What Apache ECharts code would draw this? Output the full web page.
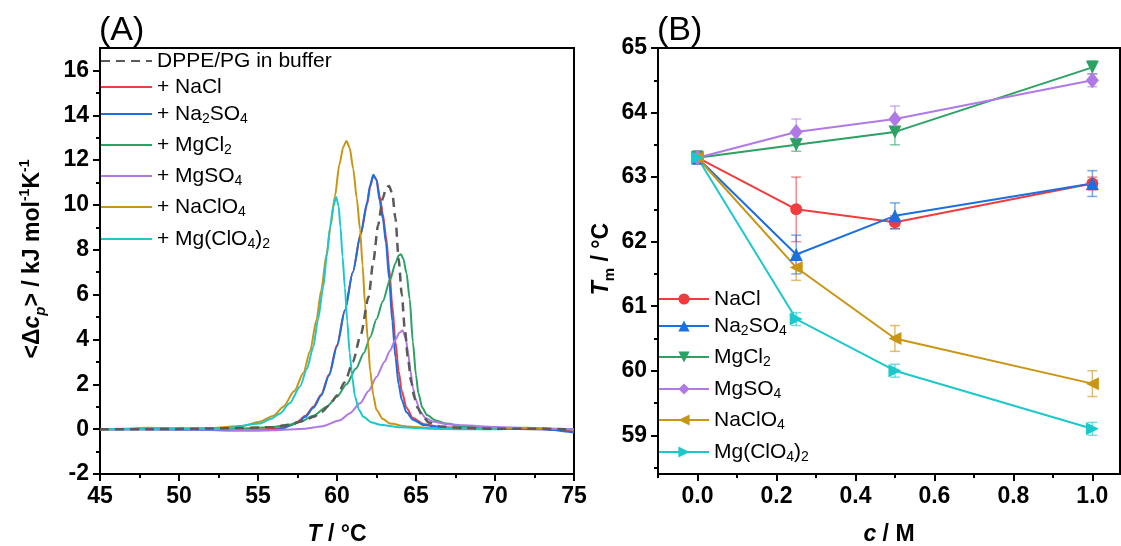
<!DOCTYPE html>
<html>
<head>
<meta charset="utf-8">
<script src="https://cdn.jsdelivr.net/npm/echarts@6/dist/echarts.min.js"></script>
<style>
html,body{margin:0;padding:0;background:#fff;}
#chart{width:1121px;height:546px;}
</style>
</head>
<body>
<div id="chart"></div>
<script>
// ---------- Panel A : DSC curves ----------
const tBuf = [45, 48, 51, 54, 56, 57, 58, 58.5, 59, 59.5, 60, 60.5, 61, 61.5, 62, 62.3, 62.6, 62.9, 63.1, 63.3, 63.5, 63.7, 63.9, 64.1, 64.3, 64.5, 64.7, 64.9, 65.1, 65.4, 65.8, 66.5, 68, 70, 72, 74.5];
const cpBuf = [0, 0, 0.02, 0.05, 0.1, 0.2, 0.4, 0.55, 0.75, 1.05, 1.5, 2.1, 3.0, 4.2, 5.9, 7.5, 9.1, 10.3, 10.75, 10.85, 10.5, 9.4, 7.6, 6.0, 4.4, 3.1, 2.1, 1.4, 0.95, 0.6, 0.3, 0.12, 0.05, 0.02, 0.02, 0];

const tNaCl = [45, 48, 51, 54, 55.5, 56.5, 57, 57.5, 58, 58.5, 59, 59.5, 60, 60.5, 61, 61.5, 61.9, 62.1, 62.3, 62.5, 62.7, 62.9, 63.1, 63.3, 63.5, 63.7, 63.9, 64.1, 64.4, 64.8, 65.5, 66.5, 68, 70, 73, 75];
const cpNaCl = [0, 0.01, 0, -0.02, 0, 0.05, 0.17, 0.33, 0.6, 1.0, 1.55, 2.45, 3.75, 5.3, 7.0, 8.7, 10.0, 10.8, 11.3, 11.15, 10.4, 9.6, 8.6, 7.2, 5.5, 3.9, 2.6, 1.7, 0.95, 0.5, 0.22, 0.1, 0.04, 0.02, 0.0, -0.1];

const tNa2SO4 = [45, 48, 51, 54, 55.5, 56.5, 57, 57.5, 58, 58.5, 59, 59.5, 60, 60.5, 61, 61.5, 61.9, 62.1, 62.3, 62.5, 62.7, 62.9, 63.1, 63.3, 63.5, 63.7, 63.9, 64.1, 64.4, 64.8, 65.5, 66.5, 68, 70, 73, 75];
const cpNa2SO4 = [0, 0, -0.03, -0.06, -0.05, 0.0, 0.15, 0.3, 0.55, 0.95, 1.5, 2.4, 3.7, 5.3, 7.0, 8.7, 10.1, 10.9, 11.35, 11.1, 10.2, 9.4, 8.3, 6.7, 4.8, 3.2, 2.0, 1.3, 0.75, 0.42, 0.18, 0.08, 0.03, 0.02, 0.0, -0.15];

const tMgCl2 = [45, 48, 51, 54, 56, 57, 57.7, 58.5, 59.35, 60, 60.6, 61.2, 61.7, 62.1, 62.5, 62.9, 63.35, 63.7, 63.9, 64.05, 64.2, 64.4, 64.6, 64.8, 65.0, 65.15, 65.4, 65.7, 66.2, 66.9, 68, 70, 73, 75];
const cpMgCl2 = [0, 0, 0, 0.03, 0.1, 0.2, 0.33, 0.6, 1.0, 1.45, 2.0, 2.7, 3.4, 4.1, 4.9, 5.7, 6.65, 7.4, 7.75, 7.8, 7.6, 6.95, 5.8, 3.9, 2.4, 1.6, 0.95, 0.63, 0.4, 0.25, 0.12, 0.05, 0.02, 0];

const tMgSO4 = [45, 48, 51, 54, 56, 58, 59, 60.2, 60.8, 61.46, 62, 62.5, 63, 63.35, 63.7, 63.95, 64.15, 64.35, 64.5, 64.65, 64.8, 65.0, 65.25, 65.6, 66.1, 67, 68, 70, 73, 75];
const cpMgSO4 = [0, 0, -0.02, -0.04, -0.05, 0.02, 0.12, 0.4, 0.7, 1.15, 1.7, 2.33, 3.0, 3.5, 4.0, 4.3, 4.4, 4.05, 3.4, 2.6, 1.85, 1.3, 0.8, 0.5, 0.33, 0.22, 0.17, 0.1, 0.03, 0];

const tNaClO4 = [45, 46.5, 48, 50, 52, 54, 55.1, 56, 56.6, 57.3, 57.87, 58.3, 58.7, 59.0, 59.35, 59.6, 59.87, 60.15, 60.4, 60.6, 60.8, 61.03, 61.25, 61.46, 61.62, 61.77, 61.95, 62.1, 62.3, 62.5, 62.9, 63.35, 64.4, 66, 70, 72, 73.3];
const cpNaClO4 = [0, 0.02, 0.06, 0.04, 0.05, 0.14, 0.33, 0.6, 1.0, 1.7, 2.5, 3.5, 4.87, 6.2, 7.85, 9.1, 10.4, 11.8, 12.6, 12.85, 12.55, 11.6, 10.3, 8.9, 7.3, 5.6, 4.0, 2.6, 1.5, 0.85, 0.45, 0.25, 0.12, 0.05, 0.03, 0.06, 0.03];

const tMgClO42 = [45, 48, 51, 53, 55.1, 55.8, 56.4, 57.0, 57.66, 58.1, 58.5, 58.8, 59.13, 59.35, 59.56, 59.75, 59.95, 60.1, 60.22, 60.35, 60.5, 60.65, 60.8, 60.97, 61.14, 61.4, 61.67, 62.2, 62.7, 64, 66, 68, 70.5];
const cpMgClO42 = [0, 0.01, 0.02, 0.05, 0.25, 0.45, 0.7, 1.15, 1.9, 2.7, 3.67, 4.9, 6.35, 7.7, 9.0, 9.9, 10.35, 9.95, 9.0, 7.7, 6.3, 4.8, 3.4, 2.3, 1.44, 0.85, 0.55, 0.3, 0.2, 0.08, 0.02, 0, 0];

const yTicksA = [-2, 0, 2, 4, 6, 8, 10, 12, 14, 16];
const yMinorA = [-1, 1, 3, 5, 7, 9, 11, 13, 15];

// ---------- Panel B : Tm vs concentration ----------
const conc = [0, 0.25, 0.5, 1.0];
const tmNaCl = [63.3, 62.5, 62.3, 62.9];      const errNaCl = [0.1, 0.5, 0.1, 0.1];
const tmNa2SO4 = [63.3, 61.8, 62.4, 62.9];    const errNa2SO4 = [0.1, 0.3, 0.2, 0.2];
const tmMgCl2 = [63.3, 63.5, 63.7, 64.7];     const errMgCl2 = [0.1, 0.1, 0.2, 0.1];
const tmMgSO4 = [63.3, 63.7, 63.9, 64.5];     const errMgSO4 = [0.1, 0.2, 0.2, 0.1];
const tmNaClO4 = [63.3, 61.6, 60.5, 59.8];    const errNaClO4 = [0.1, 0.2, 0.2, 0.2];
const tmMgClO42 = [63.3, 60.8, 60.0, 59.1];   const errMgClO42 = [0.1, 0.1, 0.1, 0.1];

const xTicksB = [0, 0.2, 0.4, 0.6, 0.8, 1.0];
const xMinorB = [-0.1, 0.1, 0.3, 0.5, 0.7, 0.9];
const yTicksB = [59, 60, 61, 62, 63, 64, 65];
const yMinorB = [58.5, 59.5, 60.5, 61.5, 62.5, 63.5, 64.5];

// ---------- styling ----------
const FONT = "'Liberation Sans', Arial, Helvetica, sans-serif";
const C = {
  buf: '#5a5a5a', NaCl: '#F03C3E', Na2SO4: '#1C6FE0', MgCl2: '#2BA163',
  MgSO4: '#B07AE6', NaClO4: '#C99512', MgClO42: '#1DC8CC'
};

const zip = (a, b) => a.map((v, i) => [v, b[i]]);
const zip3 = (a, b, c) => a.map((v, i) => [v, b[i], c[i]]);

const axisLine = { show: true, onZero: false, lineStyle: { color: '#000', width: 2 } };
const tickLabel = { color: '#000', fontFamily: FONT, fontWeight: 'bold', fontSize: 23 };

function majorAxis(gridIndex, min, max, ticks, fmt, position) {
  return {
    type: 'value', gridIndex, min, max, position, offset: 0,
    axisLine,
    axisTick: { show: true, length: 7, lineStyle: { color: '#000', width: 2 }, customValues: ticks },
    axisLabel: Object.assign({ margin: 11, customValues: ticks, formatter: fmt }, tickLabel),
    splitLine: { show: false }
  };
}
function minorAxis(gridIndex, min, max, ticks, position) {
  return {
    type: 'value', gridIndex, min, max, position, offset: 0,
    axisLine: { show: false, onZero: false },
    axisTick: { show: true, length: 4, lineStyle: { color: '#000', width: 2 }, customValues: ticks },
    axisLabel: { show: false },
    splitLine: { show: false }
  };
}

const leftSeriesDefs = [
  ['DPPE/PG in buffer', tBuf, cpBuf, C.buf, true],
  ['+ NaCl', tNaCl, cpNaCl, C.NaCl],
  ['+ Na2SO4', tNa2SO4, cpNa2SO4, C.Na2SO4],
  ['+ MgCl2', tMgCl2, cpMgCl2, C.MgCl2],
  ['+ MgSO4', tMgSO4, cpMgSO4, C.MgSO4],
  ['+ NaClO4', tNaClO4, cpNaClO4, C.NaClO4],
  ['+ Mg(ClO4)2', tMgClO42, cpMgClO42, C.MgClO42]
];
const rightSeriesDefs = [
  ['NaCl', tmNaCl, errNaCl, C.NaCl, 'circle', 0, 12],
  ['Na2SO4', tmNa2SO4, errNa2SO4, C.Na2SO4, 'triangle', 0, 13],
  ['MgCl2', tmMgCl2, errMgCl2, C.MgCl2, 'triangle', 180, 13],
  ['MgSO4', tmMgSO4, errMgSO4, C.MgSO4, 'diamond', 0, [13, 16]],
  ['NaClO4', tmNaClO4, errNaClO4, C.NaClO4, 'triangle', 90, 13],
  ['Mg(ClO4)2', tmMgClO42, errMgClO42, C.MgClO42, 'triangle', -90, 13]
];

const series = [];
leftSeriesDefs.forEach(([name, t, v, color, dashed]) => {
  series.push({
    name, type: 'line', xAxisIndex: 0, yAxisIndex: 0,
    data: zip(t, v), symbol: 'none', smooth: 0.25, smoothMonotone: 'x',
    lineStyle: { color, width: dashed ? 2.5 : 2, type: dashed ? [9, 6] : 'solid' },
    itemStyle: { color }, z: dashed ? 3 : 2
  });
});
rightSeriesDefs.forEach(([name, tm, err, color, sym, rot, size]) => {
  series.push({
    name: name + ' err', type: 'custom', xAxisIndex: 1, yAxisIndex: 1,
    data: zip3(conc, tm, err), encode: { x: 0, y: 1 }, z: 1,
    renderItem: (params, api) => {
      const x = api.value(0), y = api.value(1), e = api.value(2);
      const p1 = api.coord([x, y + e]), p2 = api.coord([x, y - e]);
      const w = 5;
      const style = { stroke: color, lineWidth: 1.5, opacity: 0.6 };
      return { type: 'group', children: [
        { type: 'line', shape: { x1: p1[0], y1: p1[1], x2: p2[0], y2: p2[1] }, style },
        { type: 'line', shape: { x1: p1[0] - w, y1: p1[1], x2: p1[0] + w, y2: p1[1] }, style },
        { type: 'line', shape: { x1: p2[0] - w, y1: p2[1], x2: p2[0] + w, y2: p2[1] }, style }
      ]};
    }
  });
  series.push({
    name, type: 'line', xAxisIndex: 1, yAxisIndex: 1,
    data: zip(conc, tm), symbol: sym, symbolRotate: rot, symbolSize: size, showSymbol: true,
    lineStyle: { color, width: 2 }, itemStyle: { color }, z: 3
  });
});

const subFmt = name => name.replace(/(\d)/g, '{sub|$1}');
function legendText() {
  return {
    color: '#000', fontFamily: FONT, fontSize: 21, lineHeight: 24,
    rich: {
      sub: { fontFamily: FONT, fontSize: 14, verticalAlign: 'bottom', lineHeight: 12, color: '#000' }
    }
  };
}
const legends = [];
const leftCenters = [61, 87, 114, 145, 176, 207, 239];
leftSeriesDefs.forEach((d, i) => {
  legends.push({
    left: 100, top: leftCenters[i] - 12, orient: 'vertical', padding: 0, itemGap: 0,
    itemWidth: 51, itemHeight: 14, selectedMode: false, data: [d[0]],
    itemStyle: { opacity: 0 },
    formatter: subFmt, textStyle: legendText()
  });
});
const rightCenters = [299, 326, 357, 389, 420, 452];
rightSeriesDefs.forEach((d, i) => {
  legends.push({
    left: 658, top: rightCenters[i] - 12, orient: 'vertical', padding: 0, itemGap: 0,
    itemWidth: 50, itemHeight: 14, selectedMode: false, data: [d[0]],
    formatter: subFmt, textStyle: legendText()
  });
});

const nameRich = {
  ti: { fontFamily: FONT, fontSize: 23, fontWeight: 'bold', fontStyle: 'italic', lineHeight: 30 },
  n: { fontFamily: FONT, fontSize: 23, fontWeight: 'bold', lineHeight: 30 },
  sbi: { fontFamily: FONT, fontSize: 15, fontWeight: 'bold', fontStyle: 'italic', verticalAlign: 'bottom', lineHeight: 16 },
  sb: { fontFamily: FONT, fontSize: 15, fontWeight: 'bold', verticalAlign: 'bottom', lineHeight: 16 },
  sp: { fontFamily: FONT, fontSize: 14, fontWeight: 'bold', verticalAlign: 'top', lineHeight: 15 }
};
function nameText(x, y, text, rotate) {
  return {
    type: 'text', x, y, rotation: rotate ? Math.PI / 2 : 0,
    style: { text, fill: '#000', align: 'center', verticalAlign: 'middle',
      fontFamily: FONT, fontSize: 23, fontWeight: 'bold', lineHeight: 30, rich: nameRich }
  };
}

const xA = majorAxis(0, 45, 75, undefined, undefined, 'bottom');
xA.interval = 5;
xA.axisTick = { show: true, length: 7, lineStyle: { color: '#000', width: 2 } };
xA.axisLabel = Object.assign({ margin: 11 }, tickLabel);
xA.minorTick = { show: true, splitNumber: 2, length: 4, lineStyle: { color: '#000', width: 2 } };
xA.minorSplitLine = { show: false };

const option = {
  animation: false,
  backgroundColor: '#fff',
  grid: [
    { left: 100, top: 48, width: 474, height: 426, show: true, borderColor: '#000', borderWidth: 2, backgroundColor: 'transparent' },
    { left: 658, top: 48, width: 462, height: 426, show: true, borderColor: '#000', borderWidth: 2, backgroundColor: 'transparent' }
  ],
  xAxis: [
    xA,
    majorAxis(1, -0.1, 1.07, xTicksB, v => v.toFixed(1), 'bottom'),
    minorAxis(1, -0.1, 1.07, xMinorB, 'bottom')
  ],
  yAxis: [
    majorAxis(0, -2, 17, yTicksA, v => String(v), 'left'),
    majorAxis(1, 58.4, 65, yTicksB, v => String(v), 'left'),
    minorAxis(0, -2, 17, yMinorA, 'left'),
    minorAxis(1, 58.4, 65, yMinorB, 'left')
  ],
  legend: legends,
  series,
  graphic: [
    { type: 'text', x: 99, y: 31, style: { text: '(A)', fill: '#000', fontFamily: FONT, fontSize: 34, verticalAlign: 'middle', align: 'left' } },
    { type: 'text', x: 657, y: 31, style: { text: '(B)', fill: '#000', fontFamily: FONT, fontSize: 34, verticalAlign: 'middle', align: 'left' } },
    nameText(33, 259, '{n|<Δ}{ti|c}{sbi|p}{n|> / kJ mol}{sp|-1}{n|K}{sp|-1}', true),
    nameText(337, 535, '{ti|T}{n| / °C}', false),
    nameText(602, 259, '{ti|T}{sb|m}{n| / °C}', true),
    nameText(889, 535, '{ti|c}{n| / M}', false)
  ]
};

const chart = echarts.init(document.getElementById('chart'), null, { renderer: 'canvas' });
chart.setOption(option);
</script>
</body>
</html>
